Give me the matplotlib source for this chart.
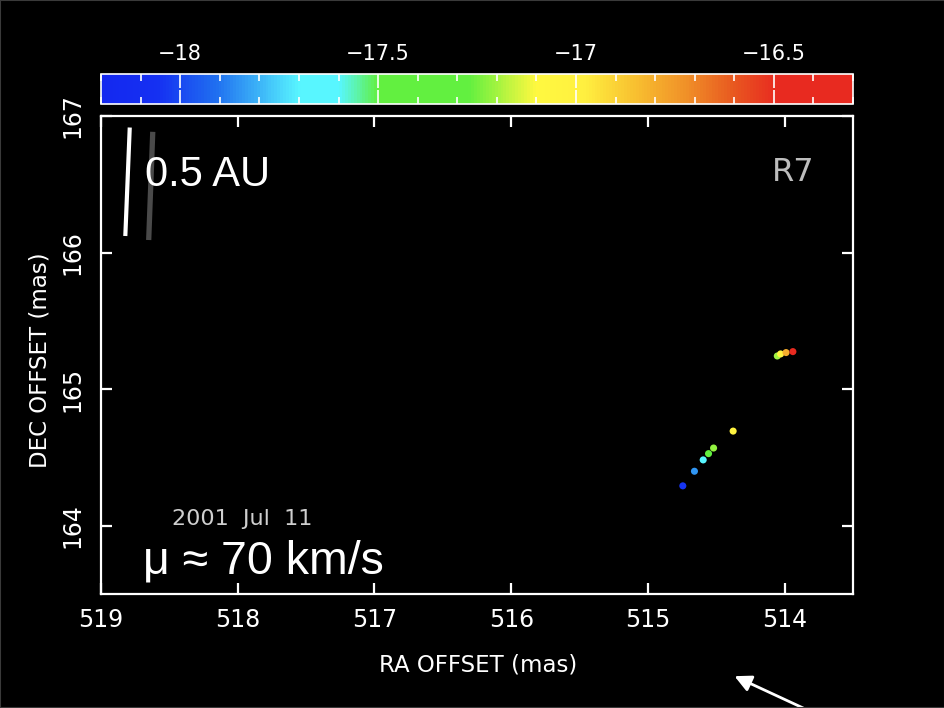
import numpy as np
import matplotlib
matplotlib.use('Agg')
from matplotlib import pyplot as plt
from matplotlib.colors import LinearSegmentedColormap, Normalize
from matplotlib.cm import ScalarMappable
from matplotlib.patches import Rectangle

# maser spot positions (mas) and LSR velocities (km/s)
ra_offset = [514.745, 514.660, 514.596, 514.557, 514.520, 514.377, 514.054, 514.030, 513.990, 513.940]
dec_offset = [164.292, 164.399, 164.482, 164.528, 164.569, 164.693, 165.243, 165.258, 165.268, 165.275]
velocity = [-18.05, -17.85, -17.62, -17.45, -17.22, -17.02, -17.20, -17.02, -16.80, -16.42]

vel_min, vel_max = -18.2, -16.3
cbar_ticks = [-18, -17.5, -17, -16.5]
x_ticks = [519, 518, 517, 516, 515, 514]
y_ticks = [164, 165, 166, 167]

# colour table as it looks on the wedge
nodes = [(-18.2, '#1428f0'), (-18.06, '#1530f2'), (-17.91, '#2070f0'),
         (-17.70, '#58f6ff'), (-17.60, '#58f6ff'), (-17.50, '#62f040'),
         (-17.27, '#62f040'), (-17.10, '#fff840'), (-16.98, '#fff040'),
         (-16.85, '#f8c030'), (-16.72, '#f09028'), (-16.60, '#e85820'),
         (-16.49, '#e82a20'), (-16.3, '#e82a20')]
cmap = LinearSegmentedColormap.from_list(
    'vel', [((v - vel_min) / (vel_max - vel_min), c) for v, c in nodes])
norm = Normalize(vmin=vel_min, vmax=vel_max)

plt.rcParams['font.family'] = ['DejaVu Sans']

fig = plt.figure(figsize=(9.45, 7.08), dpi=100, facecolor='black')
ax = fig.add_axes([0.1069, 0.1610, 0.7958, 0.6751], facecolor='black')
cax = fig.add_axes([0.1069, 0.8531, 0.7958, 0.0424])

ax.scatter(ra_offset, dec_offset, c=velocity, cmap=cmap, norm=norm, s=26, linewidths=0, zorder=3)

ax.set_xlim(519, 513.5)
ax.set_ylim(163.5, 167)
ax.set_xticks(x_ticks)
ax.set_yticks(y_ticks)
for s in ax.spines.values():
    s.set_color('white')
    s.set_linewidth(1.6)
ax.tick_params(direction='in', length=8, width=1.6, color='white', labelcolor='white',
               labelsize=17, top=True, right=True, pad=10)
plt.setp(ax.get_yticklabels(), rotation=90, va='center')
ax.tick_params(axis='y', pad=12)

ax.set_xlabel('RA OFFSET (mas)', color='white', fontsize=16.5)
ax.xaxis.label.set_va('center')
ax.xaxis.set_label_coords(0.501, -0.1485)
ax.set_ylabel('DEC OFFSET (mas)', color='white', fontsize=16.5)
ax.yaxis.label.set_va('center')
ax.yaxis.set_label_coords(-0.081, 0.4895)

# colour wedge
cb = fig.colorbar(ScalarMappable(norm=norm, cmap=cmap), cax=cax, orientation='horizontal')
cb.set_ticks(cbar_ticks)
cb.set_ticklabels(['\u221218', '\u221217.5', '\u221217', '\u221216.5'])
cb.ax.xaxis.set_minor_locator(plt.MultipleLocator(0.1))
cb.outline.set_edgecolor('white')
cb.outline.set_linewidth(1.2)
cax.tick_params(axis='x', which='both', direction='in', color='white', labelcolor='white',
                top=True, bottom=True, labeltop=True, labelbottom=False, labelsize=15, pad=7)
cax.tick_params(axis='x', which='major', length=10, width=1.2)
cax.tick_params(axis='x', which='minor', length=5, width=1.2)

# scale bar and annotations
ax.plot([0.0323, 0.0382], [0.749, 0.976], transform=ax.transAxes, color='white', lw=3, solid_capstyle='butt')
ax.plot([0.0634, 0.0688], [0.7406, 0.967], transform=ax.transAxes, color='#4a4a4a', lw=3.8, solid_capstyle='butt')
ax.text(0.0585, 0.8766, '0.5 AU', transform=ax.transAxes, color='white', fontsize=30,
        family='Liberation Sans', va='center', ha='left')
ax.text(0.920, 0.881, 'R7', transform=ax.transAxes, color='#bdbdbd', fontsize=23,
        va='center', ha='center')
ax.text(0.1875, 0.157, '2001  Jul  11', transform=ax.transAxes, color='#cfcfcf', fontsize=16,
        va='center', ha='center')
ax.text(0.0559, 0.0439, '\u03bc \u2248 70 km/s', transform=ax.transAxes, color='white', fontsize=33.5,
        family='Liberation Sans', va='baseline', ha='left')

# arrow pointing in from the bottom edge
ax.annotate('', xy=(0.7746, 0.0466), xycoords='figure fraction',
            xytext=(0.866, -0.01), textcoords='figure fraction',
            arrowprops=dict(arrowstyle='-|>,head_length=1.0,head_width=0.5', color='white', lw=2),
            annotation_clip=False)

fig.patches.append(Rectangle((0, 0), 1, 1, transform=fig.transFigure, fill=False,
                             edgecolor='#3a3a3a', lw=1.5))

fig.savefig('out.png', dpi=100, facecolor='black')
